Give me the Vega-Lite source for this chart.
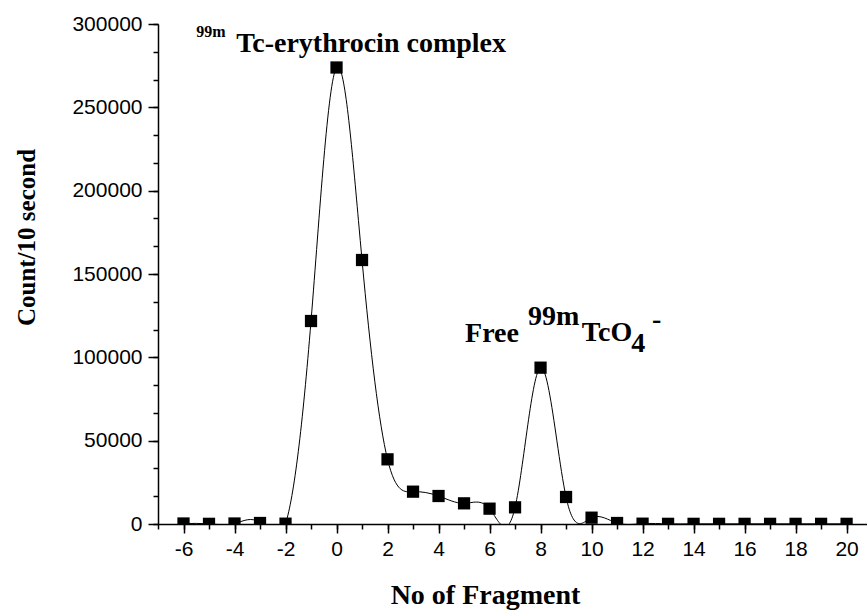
{
  "$schema": "https://vega.github.io/schema/vega-lite/v6.json",
  "width": 709,
  "height": 500,
  "autosize": {"type": "none"},
  "padding": {"left": 158, "top": 24, "right": 0, "bottom": 86},
  "background": "white",
  "config": {"view": {"stroke": null}},
  "datasets": {
    "pts": [
      {"fragment": -6, "count": 300},
      {"fragment": -5, "count": 100},
      {"fragment": -4, "count": 300},
      {"fragment": -3, "count": 600},
      {"fragment": -2, "count": 200},
      {"fragment": -1, "count": 121800},
      {"fragment": 0, "count": 273900},
      {"fragment": 1, "count": 158400},
      {"fragment": 2, "count": 38800},
      {"fragment": 3, "count": 19400},
      {"fragment": 4, "count": 16800},
      {"fragment": 5, "count": 12400},
      {"fragment": 6, "count": 9200},
      {"fragment": 7, "count": 10000},
      {"fragment": 8, "count": 93800},
      {"fragment": 9, "count": 16200},
      {"fragment": 10, "count": 3800},
      {"fragment": 11, "count": 600},
      {"fragment": 12, "count": 200},
      {"fragment": 13, "count": 100},
      {"fragment": 14, "count": 100},
      {"fragment": 15, "count": 100},
      {"fragment": 16, "count": 100},
      {"fragment": 17, "count": 100},
      {"fragment": 18, "count": 100},
      {"fragment": 19, "count": 100},
      {"fragment": 20, "count": 100}
    ],
    "big": [
      {"t": "Tc-erythrocin complex", "x": -3.936, "y": 283200},
      {"t": "Free", "x": 5.04, "y": 109200},
      {"t": "99m", "x": 7.506, "y": 119400},
      {"t": "TcO", "x": 9.62, "y": 109800},
      {"t": "4", "x": 11.56, "y": 103200},
      {"t": "-", "x": 12.37, "y": 117600}
    ],
    "small": [
      {"t": "99m", "x": -5.503, "y": 292200}
    ]
  },
  "resolve": {"axis": {"x": "independent", "y": "independent"}},
  "layer": [
    {
      "data": {"name": "pts"},
      "mark": {"type": "line", "interpolate": "natural", "clip": true, "color": "black", "strokeWidth": 1},
      "encoding": {
        "x": {
          "field": "fragment", "type": "quantitative",
          "scale": {"domain": [-7, 20.8], "nice": false, "zero": false},
          "axis": {
            "orient": "bottom",
            "values": [-6, -4, -2, 0, 2, 4, 6, 8, 10, 12, 14, 16, 18, 20],
            "labelExpr": "'' + datum.value",
            "labelFont": "Liberation Sans", "labelFontSize": 21, "labelColor": "black",
            "labelPadding": 5, "labelFlush": false,
            "tickSize": 9, "tickWidth": 1.5, "tickColor": "black",
            "domainWidth": 1.5, "domainColor": "black", "grid": false,
            "title": "No of Fragment",
            "titleFont": "Liberation Serif", "titleFontWeight": "bold", "titleFontSize": 28,
            "titleColor": "black", "titleX": 327, "titleY": 79,
            "titleBaseline": "alphabetic", "titleAlign": "center"
          }
        },
        "y": {
          "field": "count", "type": "quantitative",
          "scale": {"domain": [0, 300000], "nice": false},
          "axis": {
            "orient": "left",
            "values": [0, 50000, 100000, 150000, 200000, 250000, 300000],
            "labelExpr": "'' + datum.value",
            "labelFont": "Liberation Sans", "labelFontSize": 21, "labelColor": "black",
            "labelPadding": 6, "labelFlush": false,
            "tickSize": 10, "tickWidth": 1.5, "tickColor": "black",
            "domainWidth": 1.5, "domainColor": "black", "grid": false,
            "title": "Count/10 second",
            "titleFont": "Liberation Serif", "titleFontWeight": "bold", "titleFontSize": 25,
            "titleColor": "black", "titleX": -124, "titleY": 213, "titleAngle": -90,
            "titleBaseline": "alphabetic", "titleAlign": "center"
          }
        }
      }
    },
    {
      "data": {"name": "pts"},
      "mark": {"type": "point", "shape": "square", "filled": true, "color": "black", "opacity": 1, "size": 150, "clip": true},
      "encoding": {
        "x": {
          "field": "fragment", "type": "quantitative",
          "axis": {
            "orient": "bottom",
            "values": [-7, -6, -5, -4, -3, -2, -1, 0, 1, 2, 3, 4, 5, 6, 7, 8, 9, 10, 11, 12, 13, 14, 15, 16, 17, 18, 19, 20],
            "labels": false, "domain": false, "grid": false, "title": null,
            "tickSize": 5, "tickWidth": 1.5, "tickColor": "black"
          }
        },
        "y": {
          "field": "count", "type": "quantitative",
          "axis": {
            "orient": "left",
            "values": [0, 16666.67, 33333.33, 50000, 66666.67, 83333.33, 100000, 116666.67, 133333.33, 150000, 166666.67, 183333.33, 200000, 216666.67, 233333.33, 250000, 266666.67, 283333.33, 300000],
            "labels": false, "domain": false, "grid": false, "title": null,
            "tickSize": 5, "tickWidth": 1.5, "tickColor": "black"
          }
        }
      }
    },
    {
      "data": {"name": "big"},
      "mark": {"type": "text", "align": "left", "baseline": "alphabetic", "font": "Liberation Serif", "fontWeight": "bold", "fontSize": 28, "color": "black"},
      "encoding": {
        "x": {"field": "x", "type": "quantitative", "axis": null},
        "y": {"field": "y", "type": "quantitative", "axis": null},
        "text": {"field": "t"}
      }
    },
    {
      "data": {"name": "small"},
      "mark": {"type": "text", "align": "left", "baseline": "alphabetic", "font": "Liberation Serif", "fontWeight": "bold", "fontSize": 16, "color": "black"},
      "encoding": {
        "x": {"field": "x", "type": "quantitative", "axis": null},
        "y": {"field": "y", "type": "quantitative", "axis": null},
        "text": {"field": "t"}
      }
    }
  ]
}
